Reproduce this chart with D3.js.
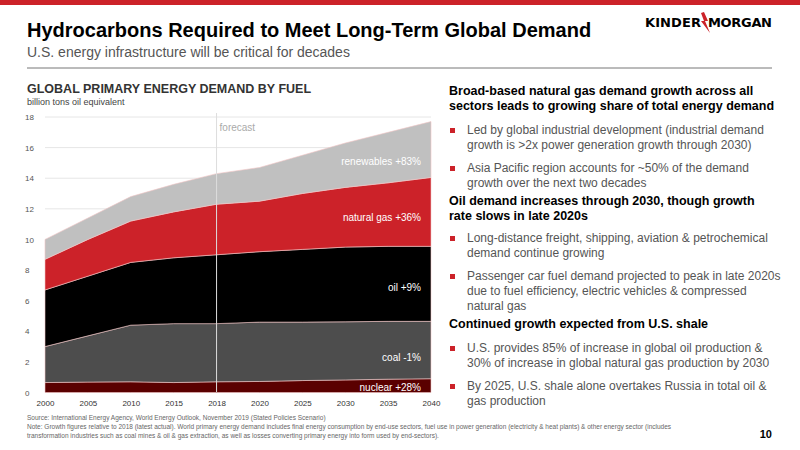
<!DOCTYPE html>
<html><head><meta charset="utf-8">
<script src="https://cdn.jsdelivr.net/npm/d3@7"></script>
<style>
body{margin:0;background:#fff;font-family:"Liberation Sans",Arial,sans-serif;}
</style></head>
<body><svg id="c" width="800" height="450"></svg>
<script>
var years = ['2000','2005','2010','2015','2018','2020','2025','2030','2035','2040'];
var nuclear = [0.65,0.68,0.7,0.65,0.7,0.72,0.78,0.82,0.87,0.9];
var coal = [2.35,3.02,3.7,3.85,3.8,3.88,3.82,3.8,3.78,3.75];
var oil = [3.7,3.9,4.1,4.3,4.5,4.6,4.75,4.88,4.9,4.9];
var gas = [2.0,2.4,2.7,3.0,3.3,3.3,3.65,3.9,4.15,4.5];
var renewables = [1.3,1.4,1.6,1.8,2.0,2.2,2.5,2.9,3.3,3.65];
var yTicks = [0,2,4,6,8,10,12,14,16,18];
var fuels = ['nuclear','coal','oil','gas','renewables'];
var labels = {nuclear:'nuclear +28%', coal:'coal -1%', oil:'oil +9%', gas:'natural gas +36%', renewables:'renewables +83%'};
var colors = {nuclear:'#5a0000', coal:'#4d4d4d', oil:'#000', gas:'#cc2229', renewables:'#c0c0c0'};

var svg = d3.select('#c');
svg.append('rect').attr('width',800).attr('height',5).attr('fill','#cc2229');
svg.append('text').attr('x',27).attr('y',37).attr('font-size',20).attr('font-weight','bold').text('Hydrocarbons Required to Meet Long-Term Global Demand');
svg.append('text').attr('x',27).attr('y',57).attr('font-size',14).attr('fill','#555').text('U.S. energy infrastructure will be critical for decades');
svg.append('line').attr('x1',27).attr('x2',772).attr('y1',68).attr('y2',68).attr('stroke','#777').attr('stroke-width',1);

// logo
var logo = svg.append('g').attr('font-size',13).attr('font-weight','bold').attr('font-family','"DejaVu Sans",sans-serif');
logo.append('text').attr('x',701).attr('y',27).attr('text-anchor','end').attr('textLength',56).text('KINDER');
logo.append('path').attr('d','M 704 12 L 708 21 L 705 21 L 710 33 L 701 21 L 704 21 L 701 13 Z').attr('fill','#cc2229');
logo.append('text').attr('x',708).attr('y',27).attr('textLength',64).text('MORGAN');

svg.append('text').attr('x',27).attr('y',93).attr('font-size',12.5).attr('font-weight','bold').attr('fill','#333').text('GLOBAL PRIMARY ENERGY DEMAND BY FUEL');
svg.append('text').attr('x',27).attr('y',105).attr('font-size',9).attr('fill','#444').text('billion tons oil equivalent');

var x = d3.scalePoint().domain(years).range([45,431]);
var y = d3.scaleLinear().domain([0,18]).range([392.5,117]);

var table = years.map(function(yr,i){
  return {year:yr, nuclear:nuclear[i], coal:coal[i], oil:oil[i], gas:gas[i], renewables:renewables[i]};
});
var series = d3.stack().keys(fuels)(table);

var g = svg.append('g');
g.selectAll('.grid').data(yTicks).enter().append('line')
  .attr('x1',45).attr('x2',431).attr('y1',function(d){return y(d);}).attr('y2',function(d){return y(d);})
  .attr('stroke','#e6e6e6');

var area = d3.area().x(function(d){return x(d.data.year);}).y0(function(d){return y(d[0]);}).y1(function(d){return y(d[1]);});
g.selectAll('.layer').data(series).enter().append('path')
  .attr('d',area).attr('fill',function(d){return colors[d.key];})
  .attr('stroke','#f4c6c6').attr('stroke-width',0.6);

// forecast line
g.append('line').attr('x1',x('2018')).attr('x2',x('2018')).attr('y1',113).attr('y2',392)
  .attr('stroke','#ddd').attr('stroke-width',1);
g.append('text').attr('x',x('2018')+3).attr('y',131).attr('font-size',10).attr('fill','#aaa').text('forecast');

var labelY = {nuclear:0.35, coal:2.3, oil:6.9, gas:11.45, renewables:15.1};
series.forEach(function(s){
  g.append('text').attr('x',421).attr('y',y(labelY[s.key])+4).attr('text-anchor','end')
    .attr('font-size',10).attr('fill','#fff').text(labels[s.key]);
});

var ya = g.append('g').attr('transform','translate(38,0)')
  .call(d3.axisLeft(y).tickValues(yTicks).tickSize(0).tickFormat(d3.format('d')));
ya.select('.domain').remove();
ya.selectAll('text').attr('font-size',8).attr('fill','#555').attr('text-anchor','start').attr('dx',-10);
var xa = g.append('g').attr('transform','translate(0,397)')
  .call(d3.axisBottom(x).tickSize(0));
xa.select('.domain').remove();
xa.selectAll('text').attr('font-size',8).attr('fill','#333');

// right column
var right = [
  {t:'h', y:95, lines:['Broad-based natural gas demand growth across all','sectors leads to growing share of total energy demand']},
  {t:'b', y:134, lines:['Led by global industrial development (industrial demand','growth is >2x power generation growth through 2030)']},
  {t:'b', y:172, lines:['Asia Pacific region accounts for ~50% of the demand','growth over the next two decades']},
  {t:'h', y:205, lines:['Oil demand increases through 2030, though growth','rate slows in late 2020s']},
  {t:'b', y:242, lines:['Long-distance freight, shipping, aviation & petrochemical','demand continue growing']},
  {t:'b', y:280, lines:['Passenger car fuel demand projected to peak in late 2020s','due to fuel efficiency, electric vehicles & compressed','natural gas']},
  {t:'h', y:328, lines:['Continued growth expected from U.S. shale']},
  {t:'b', y:352, lines:['U.S. provides 85% of increase in global oil production &','30% of increase in global natural gas production by 2030']},
  {t:'b', y:390, lines:['By 2025, U.S. shale alone overtakes Russia in total oil &','gas production']}
];
right.forEach(function(p){
  var h = p.t=='h';
  var tx = svg.append('text').attr('x', h ? 449 : 467).attr('y',p.y)
    .attr('font-size', h ? 12.5 : 12).attr('font-weight', h ? 'bold' : 'normal').attr('fill', h ? '#000' : '#555');
  p.lines.forEach(function(l,i){ tx.append('tspan').attr('x', h ? 449 : 467).attr('dy', i ? 15 : 0).text(l); });
  if (!h) svg.append('rect').attr('x',450).attr('y',p.y-6).attr('width',5).attr('height',5).attr('fill','#cc2229');
});

svg.append('text').attr('x',27).attr('y',420).attr('font-size',6.5).attr('fill','#666')
  .text('Source:  International Energy Agency, World Energy Outlook, November 2019 (Stated Policies Scenario)');
var note = svg.append('text').attr('x',27).attr('y',429).attr('font-size',6.5).attr('fill','#666');
note.append('tspan').attr('x',27).text('Note: Growth figures relative to 2018 (latest actual). World primary energy demand includes final energy consumption by end-use sectors, fuel use in power generation (electricity & heat plants) & other energy sector (includes');
note.append('tspan').attr('x',27).attr('dy',9).text('transformation industries such as coal mines & oil & gas extraction, as well as losses converting primary energy into form used by end-sectors).');
svg.append('text').attr('x',772).attr('y',438).attr('text-anchor','end').attr('font-size',11).attr('font-weight','bold').text('10');
</script></body></html>
